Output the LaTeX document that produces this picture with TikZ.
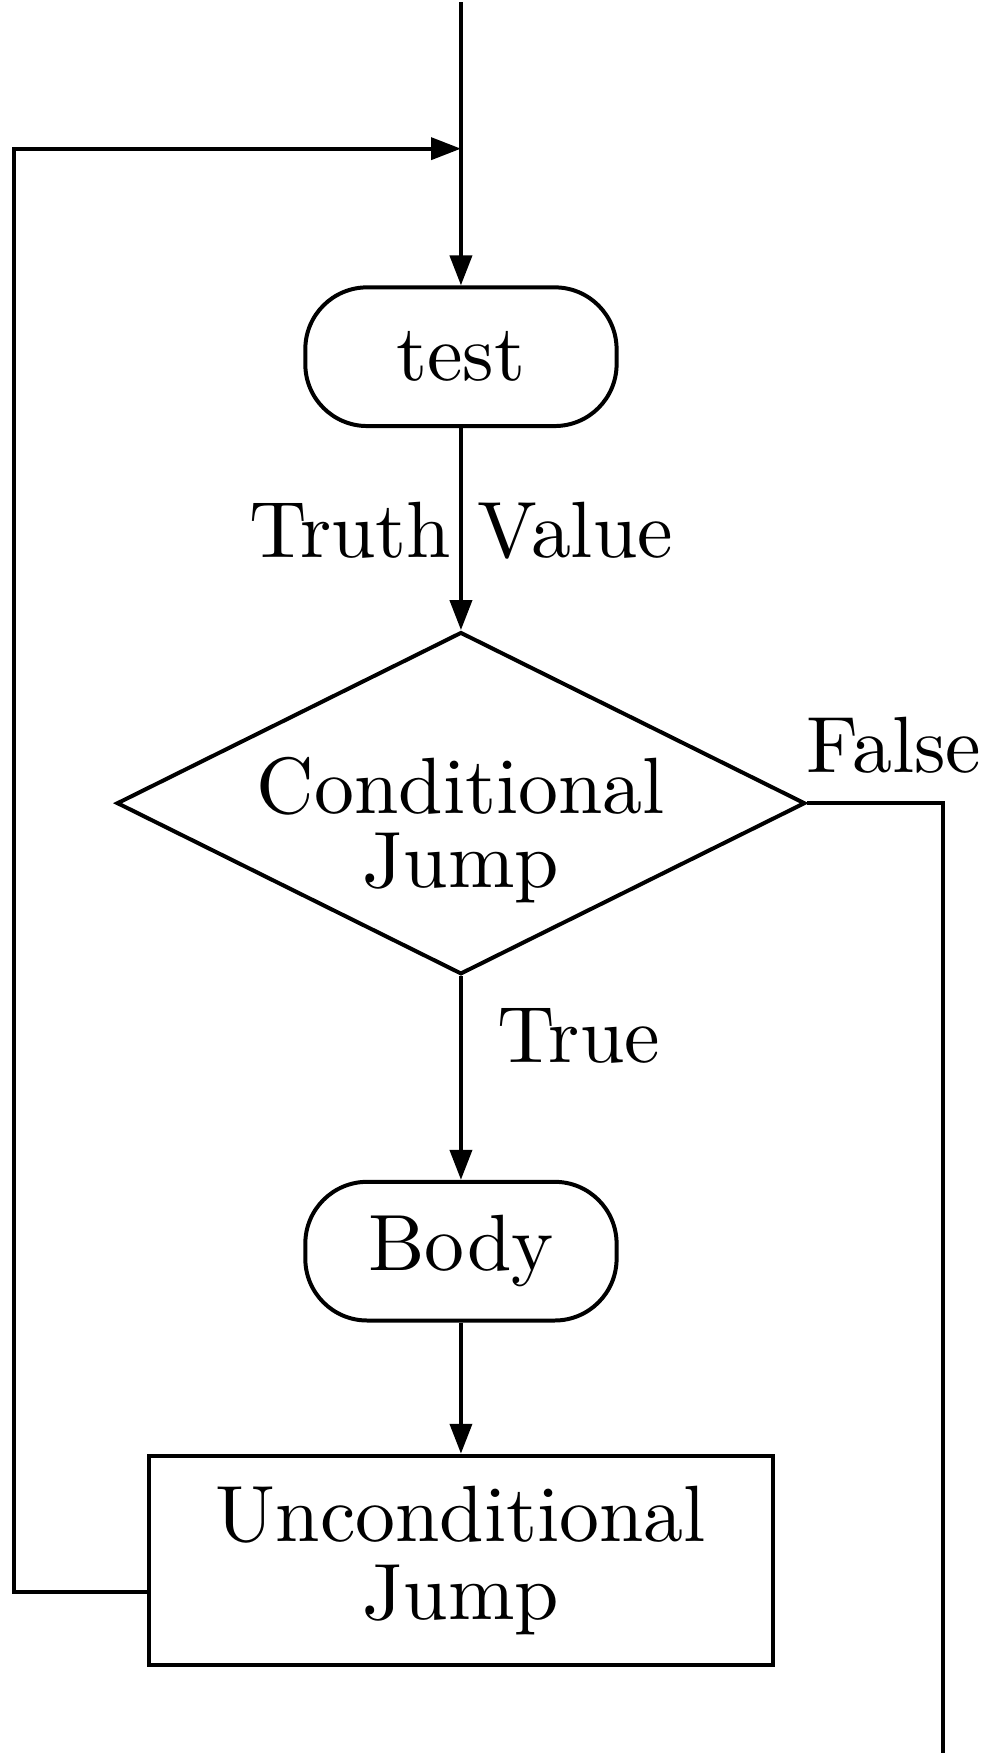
\documentclass[tikz,border=0pt]{standalone}
\usepackage{fontspec}
\newfontfamily\lmten{lmroman10-regular.otf}
\usetikzlibrary{shapes.geometric,arrows.meta,calc}
\begin{document}
\begin{tikzpicture}[x=0.25pt,y=-0.25pt,
  every node/.style={font=\lmten\fontsize{20}{18.5}\selectfont},
  line/.style={line width=1pt},
  arr/.style={line width=1pt,-{Triangle[length=7.5pt,width=5.5pt]}},
  term/.style={draw,line width=1pt,rounded corners=15.5pt,minimum width=78pt,minimum height=34.75pt,inner sep=0pt},
  box/.style={draw,line width=1pt,minimum width=156.25pt,minimum height=52.5pt,inner sep=0pt,align=center,font=\lmten\fontsize{20}{19.5}\selectfont},
  dec/.style={draw,diamond,line width=1pt,minimum width=172.5pt,minimum height=85.75pt,inner sep=0pt},
  lbl/.style={inner sep=0pt,anchor=base}]
\fill[white] (0,0) rectangle (988,1755);
\coordinate (start) at (462,0);
\coordinate (join) at (462,147);
\node[term] (test) at (462,355.5) {test};
\node[dec] (cj) at (462,803) {};
\node[inner sep=0pt,align=center] (cjt) at (462,830) {Conditional\\Jump};
\node[term] (body) at (462,1252) {Body};
\node[box] (uj) at (462,1562) {Unconditional\\Jump};
\node[lbl] (tv) at (462,557) {Truth Value};
\node[lbl] (tr) at (580,1063) {True};
\node[lbl] (fl) at (896,772) {False};
\draw[arr] (start) -- (test);
\draw[arr] (test) -- (cj);
\draw[arr] (cj) -- (body);
\draw[arr] (body) -- (uj);
\coordinate (fcorner) at (945,803);
\coordinate (fend) at (945,1755);
\draw[line] (cj.east) -- (fcorner) -- (fend);
\coordinate (ujout) at ($(uj.west)+(0,32)$);
\coordinate (lbot) at (14,1594);
\coordinate (ltop) at (14,147);
\draw[arr] (ujout) -- (lbot) -- (ltop) -- (join);
\end{tikzpicture}
\end{document}
